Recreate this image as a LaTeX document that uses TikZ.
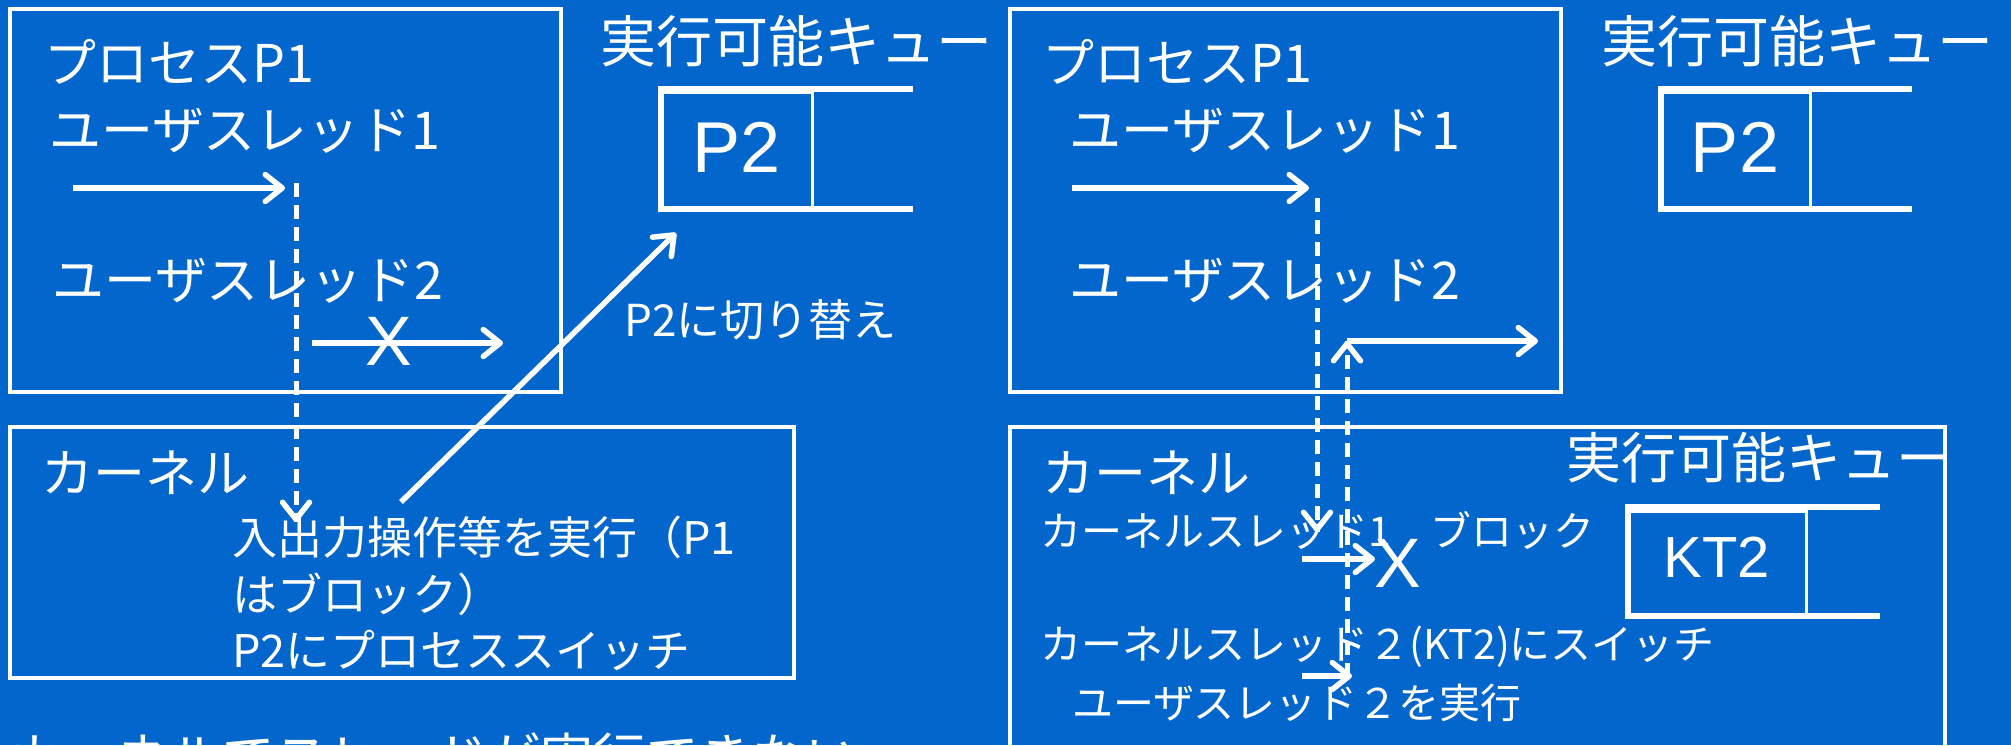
\documentclass[tikz,border=0pt]{standalone}
\usepackage{fontspec}
\newfontfamily\jp{Noto Sans CJK JP}
\newfontfamily\lat{Liberation Sans}
\usetikzlibrary{arrows.meta}
\definecolor{bg}{RGB}{3,102,204}
\tikzset{
  frame/.style={draw=white, line width=3.5pt},
  qline/.style={draw=white, line width=6pt},
  qcell/.style={draw=white, line width=2.5pt},
  arr/.style={draw=white, line width=5.5pt, line join=round, -{Straight Barb[length=17pt,width=27pt,line join=round,line cap=round]}},
  dline/.style={draw=white, line width=5pt, dash pattern=on 14pt off 8pt},
  txt/.style={text=white, inner sep=0pt, anchor=west},
  big/.style={txt, font={\jp\fontsize{52pt}{60pt}\selectfont}},
  qtitle/.style={txt, font={\jp\fontsize{56pt}{64pt}\selectfont}},
  mid/.style={txt, font={\jp\fontsize{45pt}{54pt}\selectfont}},
  small/.style={txt, font={\jp\fontsize{41pt}{48pt}\selectfont}},
  cross/.style={text=white, inner sep=0pt, font={\lat\fontsize{70pt}{80pt}\selectfont}},
  qtext/.style={text=white, inner sep=0pt, font={\lat\fontsize{72pt}{80pt}\selectfont}},
}
\begin{document}
\begin{tikzpicture}[x=1pt,y=-1pt]
\useasboundingbox (0,0) rectangle (2011,745);
\clip (0,0) rectangle (2011,745);
\fill[bg] (0,0) rectangle (2011,745);

% ===================== LEFT PANEL =====================
\draw[frame] (10,9) rectangle (561,392);
\node[big] (lp1) at (44,62) {プロセスP1};
\node[big] (lu1) at (49,131) {ユーザスレッド1};
\node[big] (lu2) at (52,281) {ユーザスレッド2};

\coordinate (la1s) at (73,188);
\coordinate (la1e) at (285,188);
\draw[arr] (la1s) -- (la1e);
\coordinate (lds) at (296,183);
\coordinate (lde) at (296,522);
\draw[dline] (lds) -- (lde);
\draw[arr] ([yshift=3pt]lde) -- (lde);

\coordinate (la2s) at (312,343);
\coordinate (la2e) at (503,343);
\draw[arr] (la2s) -- (la2e);
\node[cross] (lx) at (389,341) {X};

% queue (left)
\node[qtitle] (lqt) at (600,41) {実行可能キュー};
\draw[qline] (658,89) -- (913,89);
\draw[qline] (658,209) -- (913,209);
\draw[qline] (661,86) -- (661,212);
\node[qcell, minimum width=150pt, minimum height=116pt, anchor=north west] (lq) at (661,91) {};
\node[qtext] (lp2) at (737,147) {P2};

\coordinate (ldgs) at (401,502);
\coordinate (ldge) at (676,233);
\draw[arr] (ldgs) -- (ldge);
\node[txt, font={\jp\fontsize{44pt}{52pt}\selectfont}] (lsw) at (624,320) {P2に切り替え};

% kernel (left)
\draw[frame] (10,427) rectangle (794,678);
\node[big] (lk) at (41,473) {カーネル};
\node[mid] (lk1) at (232,537) {入出力操作等を実行（P1};
\node[mid] (lk2) at (232,594) {はブロック）};
\node[mid] (lk3) at (232,650) {P2にプロセススイッチ};

\node[txt, font={\jp\fontsize{53pt}{60pt}\selectfont}] (bottom) at (10,757) {カーネルでスレッドが実行できない};

% ===================== RIGHT PANEL =====================
\draw[frame] (1010,9) rectangle (1561,392);
\node[big] (rp1) at (1042,62) {プロセスP1};
\node[big] (ru1) at (1069,131) {ユーザスレッド1};
\node[big] (ru2) at (1069,281) {ユーザスレッド2};

\coordinate (ra1s) at (1072,188);
\coordinate (ra1e) at (1309,188);
\draw[arr] (ra1s) -- (ra1e);

\coordinate (rd1s) at (1317,198);
\coordinate (rd1e) at (1317,532);
\draw[dline] (rd1s) -- (rd1e);
\draw[arr] ([yshift=3pt]rd1e) -- (rd1e);

\coordinate (rd2s) at (1347,677);
\coordinate (rcorner) at (1347,341);
\draw[dline] (rd2s) -- (rcorner);
\draw[arr] ([yshift=-3pt]rcorner) -- (rcorner);
\coordinate (rhe) at (1538,341);
\draw[arr] (rcorner) -- (rhe);

% queue (right top)
\node[qtitle] (rqt) at (1601,41) {実行可能キュー};
\draw[qline] (1658,89) -- (1912,89);
\draw[qline] (1658,209) -- (1912,209);
\draw[qline] (1661,86) -- (1661,212);
\node[qcell, minimum width=148pt, minimum height=116pt, anchor=north west] (rq) at (1661,91) {};
\node[qtext] (rp2) at (1735,147) {P2};

% kernel (right)
\draw[frame] (1010,427) rectangle (1945,800);
\node[big] (rk) at (1042,473) {カーネル};
\node[qtitle, font={\jp\fontsize{55pt}{62pt}\selectfont}] (rkqt) at (1566,458) {実行可能キュー};
\draw[qline] (1626,507) -- (1880,507);
\draw[qline] (1626,616) -- (1880,616);
\draw[qline] (1628,504) -- (1628,619);
\node[qcell, minimum width=177pt, minimum height=105pt, anchor=north west] (kq) at (1628,510) {};
\node[text=white, inner sep=0pt, font={\lat\fontsize{58pt}{64pt}\selectfont}] (kt2) at (1717,557) {KT2};

\node[small] (kt1) at (1040,532) {カーネルスレッド1};
\node[small] (blk) at (1430,530) {ブロック};
\coordinate (sa1s) at (1302,559);
\coordinate (sa1e) at (1375,559);
\draw[arr] (sa1s) -- (sa1e);
\node[cross] (rx) at (1398,563) {X};

\node[small] (kt2sw) at (1040,647) {カーネルスレッド２(KT2)にスイッチ};
\coordinate (sa2s) at (1302,676);
\coordinate (sa2e) at (1352,676);
\draw[arr] (sa2s) -- (sa2e);
\node[small] (ru2run) at (1072,703) {ユーザスレッド２を実行};
\end{tikzpicture}
\end{document}
